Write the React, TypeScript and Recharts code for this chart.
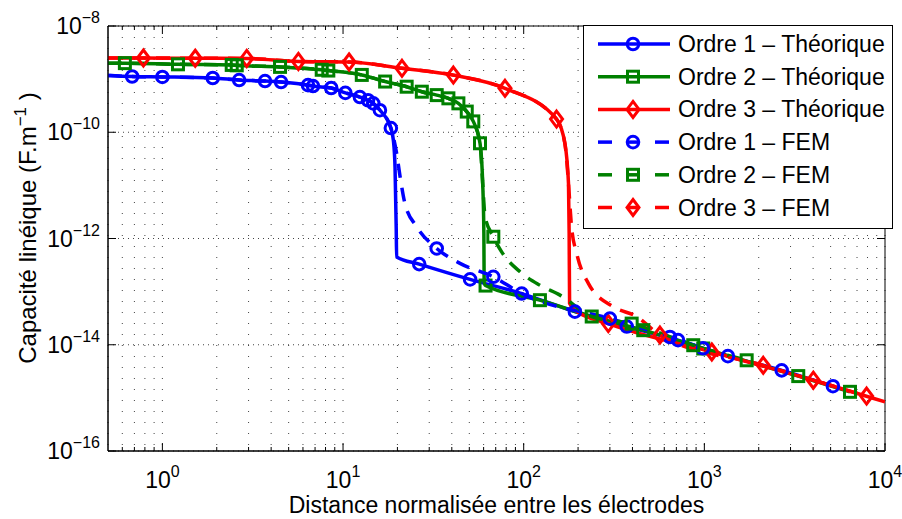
import React from 'react';
import { LineChart, Line, XAxis, YAxis, CartesianGrid, Legend, ReferenceArea } from 'recharts';

const FONT = '"Liberation Sans", Arial, Helvetica, sans-serif';
const BLUE = '#0000ff';
const GREEN = '#008000';
const RED = '#ff0000';

// axes box layout
const W = 902;
const H = 519;
const MARGIN = { top: 26, right: 17, bottom: 28, left: 48 };
const Y_AXIS_W = 60;
const X_AXIS_H = 40;
const PLOT_L = MARGIN.left + Y_AXIS_W;
const PLOT_R = W - MARGIN.right;
const PLOT_T = MARGIN.top;
const PLOT_B = H - MARGIN.bottom - X_AXIS_H;

// [distance normalisée, capacité linéique (F/m), marker shown?]
const ordre1Theo = [
  [0.5, 1.17e-9, 0], [0.68, 1.12e-9, 1], [1.0, 1.1e-9, 0], [1.9, 1.05e-9, 1],
  [2.66, 9.6e-10, 0], [3.7, 9.2e-10, 1], [4.54, 8.8e-10, 0], [6.4, 7.7e-10, 1],
  [6.82, 7.4e-10, 0], [8.6, 6.8e-10, 1], [10.3, 5.5e-10, 0], [12.4, 4.6e-10, 1],
  [13.75, 4.0e-10, 0], [14.7, 3.5e-10, 1], [16.0, 2.6e-10, 0], [18.4, 1.2e-10, 1],
  [19.0, 7e-11, 0], [19.4, 2.2e-11, 0], [19.7, 1.5e-12, 0], [19.8, 4.5e-13, 0],
  [26.4, 3.3e-13, 1], [50.5, 1.7e-13, 1], [97.5, 9.2e-14, 0], [192, 4.2e-14, 1],
  [372, 2.2e-14, 1], [715, 1.22e-14, 1], [1350, 6.1e-15, 1], [2680, 3.3e-15, 1],
  [5150, 1.66e-15, 1],
];
const ordre2Theo = [
  [0.5, 2.0e-9, 0], [0.62, 2.0e-9, 1], [1.22, 1.9e-9, 0], [2.42, 1.85e-9, 1],
  [2.58, 1.82e-9, 0], [4.48, 1.7e-9, 1], [7.62, 1.5e-9, 1], [8.29, 1.45e-9, 0],
  [12.7, 1.2e-9, 1], [17.1, 9.0e-10, 0], [22.5, 7.2e-10, 1], [27.3, 5.8e-10, 0],
  [33.0, 5.0e-10, 1], [38.3, 4.35e-10, 0], [43.5, 3.5e-10, 1], [48.4, 2.45e-10, 0],
  [52.6, 1.6e-10, 1], [57.3, 6.2e-11, 1], [59.3, 1.09e-11, 0], [60.2, 1.26e-12, 0],
  [60.4, 1.5e-13, 0], [61.5, 1.3e-13, 1], [123, 6.9e-14, 1], [238, 3.4e-14, 0],
  [459, 1.88e-14, 1], [986, 8.5e-15, 1], [3310, 2.57e-15, 1], [6400, 1.3e-15, 1],
];
const ordre3Theo = [
  [0.5, 2.5e-9, 0], [0.785, 2.5e-9, 1], [1.52, 2.47e-9, 0], [2.93, 2.45e-9, 1],
  [5.66, 2.15e-9, 0], [10.8, 2.1e-9, 1], [21.2, 1.6e-9, 0], [40.8, 1.19e-9, 1],
  [78.8, 6.7e-10, 0], [152, 1.77e-10, 1], [169, 6.2e-11, 0], [177, 1.09e-11, 0],
  [178.5, 1.25e-12, 0], [179.5, 6.0e-14, 0], [192, 4.5e-14, 0], [294, 2.5e-14, 1],
  [1100, 7.3e-15, 1], [4010, 2.15e-15, 1], [10000, 8.4e-16, 0],
];
const ordre1Fem = [
  [0.5, 1.17e-9, 0], [0.68, 1.12e-9, 0], [1.0, 1.1e-9, 1], [1.9, 1.05e-9, 0],
  [2.66, 9.6e-10, 1], [3.7, 9.2e-10, 0], [4.54, 8.8e-10, 1], [6.4, 7.7e-10, 0],
  [6.82, 7.4e-10, 1], [8.6, 6.8e-10, 0], [10.3, 5.5e-10, 1], [12.4, 4.6e-10, 0],
  [13.75, 4.0e-10, 1], [14.7, 3.5e-10, 0], [16.0, 2.6e-10, 1], [18.4, 1.2e-10, 0],
  [19.8, 4.0e-11, 0], [20.7, 1.45e-11, 0], [22.0, 4.6e-12, 0], [25.6, 1.66e-12, 0],
  [33.0, 6.5e-13, 1], [44.4, 3.4e-13, 0], [67.9, 1.9e-13, 1], [97.5, 9.2e-14, 1],
  [300, 3.1e-14, 1], [645, 1.4e-14, 1], [983, 8.6e-15, 1],
];
const ordre2Fem = [
  [0.5, 2.0e-9, 0], [0.62, 2.0e-9, 0], [1.22, 1.9e-9, 1], [2.42, 1.85e-9, 0],
  [2.58, 1.82e-9, 1], [4.48, 1.7e-9, 0], [7.62, 1.5e-9, 0], [8.29, 1.45e-9, 1],
  [12.7, 1.2e-9, 0], [17.1, 9.0e-10, 1], [22.5, 7.2e-10, 0], [27.3, 5.8e-10, 1],
  [33.0, 5.0e-10, 0], [38.3, 4.35e-10, 1], [43.5, 3.5e-10, 0], [48.4, 2.45e-10, 1],
  [52.6, 1.6e-10, 0], [57.3, 6.2e-11, 0], [59.3, 1.09e-11, 0], [61.1, 2.6e-12, 0],
  [67.9, 1.08e-12, 1], [75.5, 5.6e-13, 0], [95.4, 2.36e-13, 0], [123, 1.32e-13, 0],
  [159, 8.6e-14, 0], [238, 3.4e-14, 1], [396, 2.5e-14, 1], [868, 9.8e-15, 1],
  [1715, 5.1e-15, 1],
];
const ordre3Fem = [
  [0.5, 2.5e-9, 0], [0.785, 2.5e-9, 0], [1.52, 2.47e-9, 1], [2.93, 2.45e-9, 0],
  [5.66, 2.15e-9, 1], [10.8, 2.1e-9, 0], [21.2, 1.6e-9, 1], [40.8, 1.19e-9, 0],
  [78.8, 6.7e-10, 1], [152, 1.77e-10, 0], [169, 6.2e-11, 0], [177, 1.09e-11, 0],
  [181, 3.5e-12, 0], [184, 1.66e-12, 0], [196.6, 5.2e-13, 0], [228, 1.43e-13, 0],
  [313, 5.2e-14, 0], [422, 3.4e-14, 0], [568, 1.52e-14, 1], [2118, 4.1e-15, 1],
  [7910, 1.08e-15, 1],
];

const X_MAJOR = [1, 10, 100, 1000, 10000];
const X_MINOR = [
  0.6, 0.7, 0.8, 0.9, 2, 3, 4, 5, 6, 7, 8, 9, 20, 30, 40, 50, 60, 70, 80, 90,
  200, 300, 400, 500, 600, 700, 800, 900, 2000, 3000, 4000, 5000, 6000, 7000, 8000, 9000,
];
const Y_TICKS = [1e-16, 1e-14, 1e-12, 1e-10, 1e-8];

const SERIES = [
  { name: 'Ordre 1 – Théorique', data: ordre1Theo, color: BLUE, shape: 'circle', dashed: false },
  { name: 'Ordre 2 – Théorique', data: ordre2Theo, color: GREEN, shape: 'square', dashed: false },
  { name: 'Ordre 3 – Théorique', data: ordre3Theo, color: RED, shape: 'diamond', dashed: false },
  { name: 'Ordre 1 – FEM', data: ordre1Fem, color: BLUE, shape: 'circle', dashed: true },
  { name: 'Ordre 2 – FEM', data: ordre2Fem, color: GREEN, shape: 'square', dashed: true },
  { name: 'Ordre 3 – FEM', data: ordre3Fem, color: RED, shape: 'diamond', dashed: true },
];

const toPoints = (rows: number[][]) => rows.map(([x, y, m]) => ({ x, y, m }));

const exponent = (v: number) => {
  const e = Math.round(Math.log10(v));
  return e < 0 ? '\u2212' + -e : String(e);
};

function Marker({ cx, cy, shape, color }: { cx: number; cy: number; shape: string; color: string }) {
  const common = { fill: 'none', stroke: color, strokeWidth: 3 };
  if (shape === 'circle') return <circle cx={cx} cy={cy} r={5.8} {...common} />;
  if (shape === 'square') return <rect x={cx - 5.5} y={cy - 5.5} width={11} height={11} {...common} />;
  return <polygon points={`${cx},${cy - 8} ${cx + 6},${cy} ${cx},${cy + 8} ${cx - 6},${cy}`} {...common} />;
}

const renderDot = (shape: string, color: string) => (p: any) => {
  const { cx, cy, payload, index } = p;
  if (!payload || !payload.m || cx == null || cy == null) return <g key={index} />;
  return <Marker key={index} cx={cx} cy={cy} shape={shape} color={color} />;
};

function XTick(props: any) {
  const { x, y, payload } = props;
  const major = X_MAJOR.includes(payload.value);
  const len = major ? 8 : 4;
  return (
    <g>
      <line x1={x} x2={x} y1={PLOT_B} y2={PLOT_B - len} stroke="#000" />
      <line x1={x} x2={x} y1={PLOT_T} y2={PLOT_T + len} stroke="#000" />
      {major && (
        <text x={x} y={y + 37} textAnchor="middle" fontFamily={FONT} fontSize={23} fill="#000">
          10<tspan dy={-11} fontSize={16}>{exponent(payload.value)}</tspan>
        </text>
      )}
    </g>
  );
}

function YTick(props: any) {
  const { x, y, payload } = props;
  return (
    <g>
      <line x1={PLOT_L} x2={PLOT_L + 8} y1={y} y2={y} stroke="#000" />
      <line x1={PLOT_R} x2={PLOT_R - 8} y1={y} y2={y} stroke="#000" />
      <text x={x - 8} y={y + 8} textAnchor="end" fontFamily={FONT} fontSize={23} fill="#000">
        10<tspan dy={-11} fontSize={16}>{exponent(payload.value)}</tspan>
      </text>
    </g>
  );
}

function XTitle() {
  return (
    <text x={(PLOT_L + PLOT_R) / 2} y={513} textAnchor="middle" fontFamily={FONT} fontSize={23} fill="#000">
      Distance normalisée entre les électrodes
    </text>
  );
}

function YTitle() {
  const cy = 228;
  return (
    <text x={36} y={cy} transform={`rotate(-90 36 ${cy})`} textAnchor="middle" fontFamily={FONT} fontSize={24} fill="#000">
      Capacité linéique (F.m<tspan dy={-10} fontSize={17}>{'\u22121'}</tspan><tspan dy={10}> )</tspan>
    </text>
  );
}

function LegendBox() {
  return (
    <svg width={310} height={204} style={{ display: 'block' }}>
      <rect x={0.5} y={0.5} width={309} height={203} fill="#fff" stroke="#000" />
      {SERIES.map((s, i) => {
        const cy = 19 + i * 32.7;
        const ls = { stroke: s.color, strokeWidth: 3.5 };
        return (
          <g key={s.name}>
            {s.dashed ? (
              <g>
                <line x1={15} x2={29} y1={cy} y2={cy} {...ls} />
                <line x1={45} x2={55} y1={cy} y2={cy} {...ls} />
                <line x1={72} x2={86} y1={cy} y2={cy} {...ls} />
              </g>
            ) : (
              <line x1={15} x2={87} y1={cy} y2={cy} {...ls} />
            )}
            <Marker cx={50} cy={cy} shape={s.shape} color={s.color} />
            <text x={95} y={cy + 8} fontFamily={FONT} fontSize={23} fill="#000">
              {s.name}
            </text>
          </g>
        );
      })}
    </svg>
  );
}

export default function App() {
  const xTicks = [...X_MINOR, ...X_MAJOR].sort((a, b) => a - b);
  return (
    <div style={{ position: 'fixed', left: 0, top: 0, width: W, height: H, background: '#fff' }}>
      <LineChart width={W} height={H} margin={MARGIN}>
        <CartesianGrid horizontal={false} vertical stroke="#444" strokeDasharray="1 10" />
        <CartesianGrid horizontal vertical={false} stroke="#444" strokeDasharray="1 4" />
        <XAxis
          dataKey="x"
          type="number"
          scale="log"
          domain={[0.5, 10000]}
          allowDataOverflow
          ticks={xTicks}
          interval={0}
          height={X_AXIS_H}
          tickSize={0}
          tickMargin={0}
          tickLine={false}
          tick={<XTick />}
          axisLine={{ stroke: '#000' }}
          label={<XTitle />}
        />
        <YAxis
          type="number"
          scale="log"
          domain={[1e-16, 1e-8]}
          allowDataOverflow
          ticks={Y_TICKS}
          interval={0}
          width={Y_AXIS_W}
          tickSize={0}
          tickMargin={0}
          tickLine={false}
          tick={<YTick />}
          axisLine={{ stroke: '#000' }}
          label={<YTitle />}
        />
        <ReferenceArea x1={0.5} x2={10000} y1={1e-16} y2={1e-8} fill="none" stroke="#000" strokeOpacity={1} fillOpacity={0} />
        {SERIES.map((s) => (
          <Line
            key={s.name}
            data={toPoints(s.data)}
            dataKey="y"
            name={s.name}
            type="monotone"
            stroke={s.color}
            strokeWidth={3.5}
            strokeDasharray={s.dashed ? '14 10' : undefined}
            dot={renderDot(s.shape, s.color)}
            activeDot={false}
            isAnimationActive={false}
          />
        ))}
        <Legend
          layout="vertical"
          align="center"
          verticalAlign="middle"
          content={<LegendBox />}
          wrapperStyle={{ left: 583, top: 25, width: 310, height: 204 }}
        />
      </LineChart>
    </div>
  );
}
